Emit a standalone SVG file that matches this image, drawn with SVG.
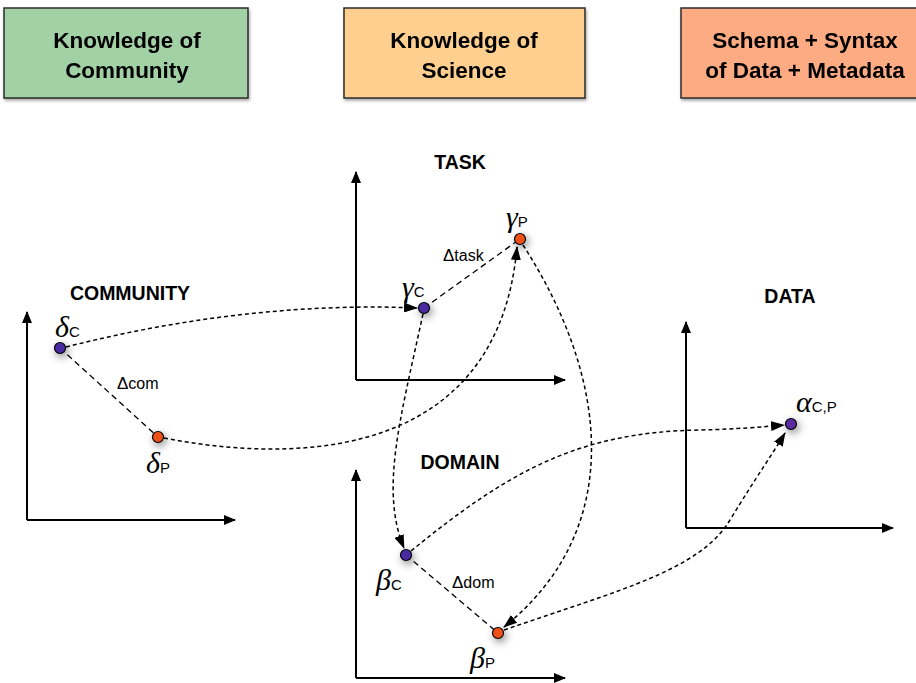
<svg xmlns="http://www.w3.org/2000/svg" width="916" height="683" viewBox="0 0 916 683">
  <style>
    .box { stroke: #2b2b2b; stroke-width: 1.5; }
    .boxtxt { font-family: "Liberation Sans", Arial, sans-serif; font-weight: bold; font-size: 22.5px; fill: #000; text-anchor: middle; }
    .title { font-family: "Liberation Sans", Arial, sans-serif; font-weight: bold; font-size: 19.5px; fill: #000; text-anchor: middle; }
    .axis { fill: none; stroke: #000; stroke-width: 2; }
    .greek { font-family: "Liberation Serif", "DejaVu Serif", serif; font-style: italic; font-size: 30px; fill: #000; }
    .sub { font-family: "Liberation Sans", Arial, sans-serif; font-style: normal; font-size: 15px; fill: #000; }
    .delta { font-family: "Liberation Sans", Arial, sans-serif; font-size: 17px; fill: #000; }
    .gap { fill: none; stroke: #000; stroke-width: 1.3; stroke-dasharray: 6 4; }
    .link { fill: none; stroke: #000; stroke-width: 1.5; stroke-dasharray: 4 3; }
    .ptC { fill: #4a2aa0; stroke: #000; stroke-width: 1.2; }
    .ptP { fill: #ee5118; stroke: #000; stroke-width: 1.2; }
    .ptA { fill: #5a2aa0; stroke: #000; stroke-width: 1.2; }
    .halo { fill: #000; opacity: 0.5; filter: url(#soft); }
  </style>
  <defs>
    <marker id="axhead" viewBox="0 0 12 10" refX="11" refY="5" markerWidth="12" markerHeight="10" markerUnits="userSpaceOnUse" orient="auto">
      <path d="M0,0 L12,5 L0,10 Z" fill="#000"/>
    </marker>
    <marker id="arr" viewBox="0 0 14 10" refX="13" refY="5" markerWidth="14" markerHeight="10" markerUnits="userSpaceOnUse" orient="auto">
      <path d="M0,0 L14,5 L0,10 Z" fill="#000"/>
    </marker>
    <filter id="soft" x="-100%" y="-100%" width="300%" height="300%">
      <feGaussianBlur stdDeviation="4"/>
    </filter>
    <filter id="boxshadow" x="-5%" y="-10%" width="115%" height="130%">
      <feDropShadow dx="1" dy="2" stdDeviation="1.5" flood-color="#000" flood-opacity="0.35"/>
    </filter>
  </defs>

  <rect width="916" height="683" fill="#fff"/>

  <!-- header boxes -->
  <g id="box-community" filter="url(#boxshadow)">
    <rect class="box" x="4" y="8" width="244" height="90" fill="#a3d1a6"/>
    <text class="boxtxt" x="127" y="48">Knowledge of</text>
    <text class="boxtxt" x="127" y="78">Community</text>
  </g>
  <g id="box-science" filter="url(#boxshadow)">
    <rect class="box" x="344" y="8" width="241" height="90" fill="#fecf8f"/>
    <text class="boxtxt" x="464" y="48">Knowledge of</text>
    <text class="boxtxt" x="464" y="78">Science</text>
  </g>
  <g id="box-data" filter="url(#boxshadow)">
    <rect class="box" x="681" y="8" width="240" height="90" fill="#fdab82"/>
    <text class="boxtxt" x="805" y="48">Schema + Syntax</text>
    <text class="boxtxt" x="805" y="78">of Data + Metadata</text>
  </g>

  <!-- coordinate frames -->
  <g id="frame-community">
    <path class="axis" d="M27,520 L27,312" marker-end="url(#axhead)"/>
    <path class="axis" d="M27,520 L235,520" marker-end="url(#axhead)"/>
    <text class="title" x="130" y="300">COMMUNITY</text>
  </g>
  <g id="frame-task">
    <path class="axis" d="M356,380 L356,172" marker-end="url(#axhead)"/>
    <path class="axis" d="M356,380 L565,380" marker-end="url(#axhead)"/>
    <text class="title" x="460" y="169">TASK</text>
  </g>
  <g id="frame-domain">
    <path class="axis" d="M356,678 L356,470" marker-end="url(#axhead)"/>
    <path class="axis" d="M356,678 L565,678" marker-end="url(#axhead)"/>
    <text class="title" x="460" y="469">DOMAIN</text>
  </g>
  <g id="frame-data">
    <path class="axis" d="M686,528 L686,322" marker-end="url(#axhead)"/>
    <path class="axis" d="M686,528 L893,528" marker-end="url(#axhead)"/>
    <text class="title" x="790" y="303">DATA</text>
  </g>

  <!-- connectors -->
  <g id="connectors">
    <path class="gap" d="M60,348 L158,437"/>
    <path class="gap" d="M424,308 L520,239"/>
    <path class="gap" d="M406,555 L498,633"/>
    <path class="link" d="M66,347 C 180,318 300,303 417,308" marker-end="url(#arr)"/>
    <path class="link" d="M164,438 C 330,470 500,440 517,247" marker-end="url(#arr)"/>
    <path class="link" d="M423,314 C 400,420 380,490 404,548" marker-end="url(#arr)"/>
    <path class="link" d="M523,245 C 610,380 625,530 504,627" marker-end="url(#arr)"/>
    <path class="link" d="M411,551 C 510,470 580,432 700,430 C 740,429 760,427 784,425" marker-end="url(#arr)"/>
    <path class="link" d="M504,630 C 620,590 700,570 730,520 C 758,474 772,455 785,433" marker-end="url(#arr)"/>
  </g>

  <!-- gap labels -->
  <g id="label-dcom"><text class="delta" x="117" y="389">Δ<tspan font-size="16">com</tspan></text></g>
  <g id="label-dtask"><text class="delta" x="443" y="261">Δ<tspan font-size="16">task</tspan></text></g>
  <g id="label-ddom"><text class="delta" x="452" y="588">Δ<tspan font-size="16">dom</tspan></text></g>

  <!-- points -->
  <g id="delta-c">
    <circle class="halo" cx="62" cy="351" r="6"/>
    <circle class="ptC" cx="60" cy="348" r="5.5"/>
    <text class="greek" x="55" y="337">δ<tspan class="sub">C</tspan></text>
  </g>
  <g id="delta-p">
    <circle class="halo" cx="160" cy="440" r="6"/>
    <circle class="ptP" cx="158" cy="437" r="5.5"/>
    <text class="greek" x="146" y="473">δ<tspan class="sub">P</tspan></text>
  </g>
  <g id="gamma-c">
    <circle class="halo" cx="426" cy="311" r="6"/>
    <circle class="ptC" cx="424" cy="308" r="5.5"/>
    <text class="greek" x="402" y="297">γ<tspan class="sub">C</tspan></text>
  </g>
  <g id="gamma-p">
    <circle class="halo" cx="522" cy="242" r="6"/>
    <circle class="ptP" cx="520" cy="239" r="5.5"/>
    <text class="greek" x="506" y="227">γ<tspan class="sub">P</tspan></text>
  </g>
  <g id="beta-c">
    <circle class="halo" cx="408" cy="558" r="6"/>
    <circle class="ptC" cx="406" cy="555" r="5.5"/>
    <text class="greek" x="376" y="590">β<tspan class="sub">C</tspan></text>
  </g>
  <g id="beta-p">
    <circle class="halo" cx="500" cy="636" r="6"/>
    <circle class="ptP" cx="498" cy="633" r="5.5"/>
    <text class="greek" x="470" y="668">β<tspan class="sub">P</tspan></text>
  </g>
  <g id="alpha-cp">
    <circle class="halo" cx="793" cy="427" r="6"/>
    <circle class="ptA" cx="791" cy="424" r="5.5"/>
    <text class="greek" x="796" y="412">α<tspan class="sub">C,P</tspan></text>
  </g>
</svg>
